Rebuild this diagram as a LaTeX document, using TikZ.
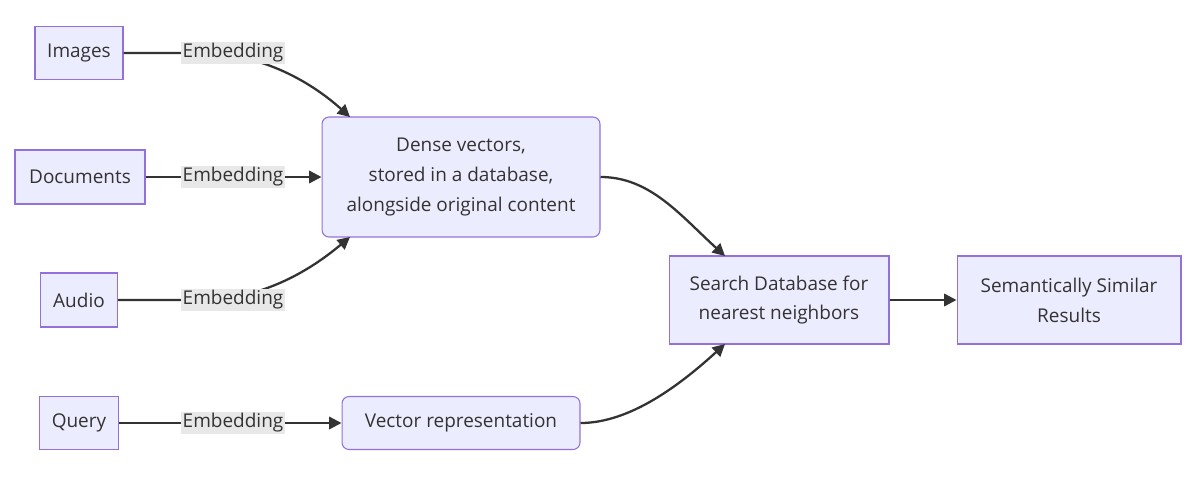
\documentclass[tikz,border=0pt]{standalone}
\usepackage{fontspec}
\setmainfont{Open Sans}
\usetikzlibrary{arrows.meta, positioning, calc}
\definecolor{boxfill}{HTML}{ECECFF}
\definecolor{boxline}{HTML}{9370DB}
\definecolor{edgecol}{HTML}{333333}
\definecolor{lblfill}{HTML}{E8E8E8}

\begin{document}
\begin{tikzpicture} [
    x=0.02cm, y=-0.02cm,
    box/.style={rectangle, draw=boxline, fill=boxfill, semithick, font=\fontsize{10.8}{17}\selectfont, text=edgecol, align=center, inner sep=0pt},
    rbox/.style={box, rounded corners=4pt},
    lbl/.style={fill=lblfill, font=\fontsize{10.8}{12}\selectfont, text=edgecol, inner sep=1pt},
    arrow/.style={-{Triangle[length=7pt, width=7pt]}, edgecol, line width=1.3pt}
]
\useasboundingbox (0,0) rectangle (1200,480);

% input nodes
\node[box, minimum width=1.76cm, minimum height=1.06cm] (images) at (79,53) {Images};
\node[box, minimum width=2.6cm, minimum height=1.08cm] (documents) at (80,177) {Documents};
\node[box, minimum width=1.54cm, minimum height=1.08cm] (audio) at (79,300) {Audio};
\node[box, minimum width=1.58cm, minimum height=1.06cm] (query) at (79,423) {Query};

% middle and output nodes
\node[rbox, minimum width=5.56cm, minimum height=2.4cm] (dense) at (461,177) {Dense vectors,\\ stored in a database,\\ alongside original content};
\node[rbox, minimum width=4.76cm, minimum height=1.06cm] (vector) at (461,423) {Vector representation};
\node[box, minimum width=4.4cm, minimum height=1.76cm] (search) at (779,300) {Search Database for\\ nearest neighbors};
\node[box, minimum width=4.48cm, minimum height=1.76cm] (similar) at (1069,300) {Semantically Similar\\ Results};

% connectors
\coordinate (denseTop) at (350,117);
\coordinate (denseBot) at (350,237);
\coordinate (searchTop) at (725,256);
\coordinate (searchBot) at (725,344);

\draw[arrow] (images.east) -- (200,53) .. controls (270,53) and (320,90) .. (denseTop);
\draw[arrow] (audio.east) -- (200,300) .. controls (270,300) and (320,262) .. (denseBot);
\draw[arrow] (documents.east) -- (dense.west);
\draw[arrow] (query.east) -- (vector.west);
\draw[arrow] (dense.east) .. controls (650,177) and (680,215) .. (searchTop);
\draw[arrow] (vector.east) .. controls (630,423) and (680,385) .. (searchBot);
\draw[arrow] (search.east) -- (similar.west);

% edge labels
\node[lbl] (e1) at (233,53) {Embedding};
\node[lbl] (e2) at (233,177) {Embedding};
\node[lbl] (e3) at (233,300) {Embedding};
\node[lbl] (e4) at (233,423) {Embedding};
\end{tikzpicture}
\end{document}
